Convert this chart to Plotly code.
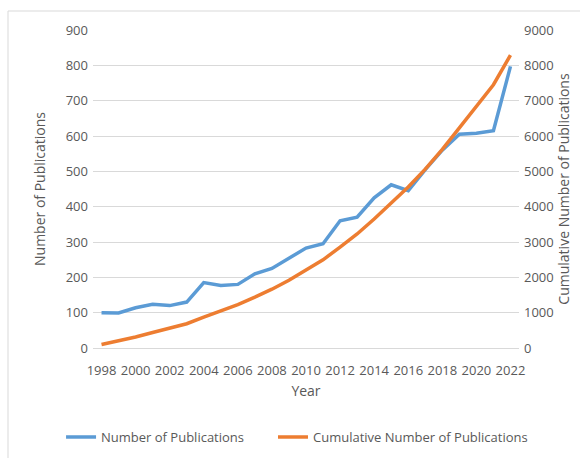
import plotly.graph_objects as go

years = list(range(1998, 2023))
publications = [100, 99, 114, 124, 120, 130, 185, 177, 180, 210, 225, 254, 283, 295,
                360, 370, 425, 462, 445, 505, 560, 605, 608, 615, 797]
cumulative = [100, 199, 313, 437, 557, 687, 872, 1049, 1229, 1439, 1664, 1918, 2201,
              2496, 2856, 3226, 3651, 4113, 4558, 5063, 5623, 6228, 6836, 7451, 8290]

left_ticks = list(range(0, 1000, 100))
right_ticks = list(range(0, 10000, 1000))
x_ticks = list(range(1998, 2023, 2))

BLUE = "#5B9BD5"
ORANGE = "#ED7D31"
TEXT = "#595959"
GRID = "#D9D9D9"
FONT = "Open Sans"

fig = go.Figure()
fig.add_trace(go.Scatter(x=years, y=publications, name="Number of Publications",
                         mode="lines", line=dict(color=BLUE, width=3.5), legend="legend"))
fig.add_trace(go.Scatter(x=years, y=cumulative, name="Cumulative Number of Publications",
                         mode="lines", line=dict(color=ORANGE, width=3.5), yaxis="y2",
                         legend="legend2"))

# chart frame
fig.add_shape(type="rect", xref="paper", yref="paper",
              x0=-0.1995, x1=1.2, y0=-0.4, y1=1.0597,
              line=dict(color=GRID, width=1), fillcolor="rgba(0,0,0,0)", layer="below")

legend_common = dict(orientation="h", xanchor="left", y=-0.28, yanchor="middle",
                     font=dict(size=13, color=TEXT), itemwidth=30,
                     bgcolor="rgba(0,0,0,0)")

fig.update_layout(
    width=580, height=458,
    margin=dict(l=93, r=61, t=30, b=110, autoexpand=False),
    paper_bgcolor="white", plot_bgcolor="white",
    font=dict(family=FONT, size=13, color=TEXT),
    showlegend=True,
    legend=dict(x=-0.075, **legend_common),
    legend2=dict(x=0.4225, **legend_common),
    xaxis=dict(range=[1997.5, 2022.5], tickmode="array", tickvals=x_ticks,
               ticktext=[str(t) for t in x_ticks], showgrid=False,
               showline=True, linecolor=GRID, linewidth=1, ticks="",
               ticklabelstandoff=10,
               tickfont=dict(size=13, color=TEXT),
               title=dict(text="Year", font=dict(size=14, color=TEXT), standoff=8)),
    yaxis=dict(range=[0, 900], tickmode="array", tickvals=left_ticks,
               showgrid=True, gridcolor=GRID, gridwidth=1, zeroline=False,
               showline=False, ticks="", ticklabelstandoff=4,
               tickfont=dict(size=13, color=TEXT),
               title=dict(text="Number of Publications", font=dict(size=14, color=TEXT),
                          standoff=16)),
    yaxis2=dict(range=[0, 9000], tickmode="array", tickvals=right_ticks,
                overlaying="y", side="right", showgrid=False, zeroline=False,
                showline=False, ticks="", ticklabelstandoff=4,
                tickfont=dict(size=13, color=TEXT),
                title=dict(text="Cumulative Number of Publications",
                           font=dict(size=14, color=TEXT), standoff=2)),
)

fig.write_html("out.html")
